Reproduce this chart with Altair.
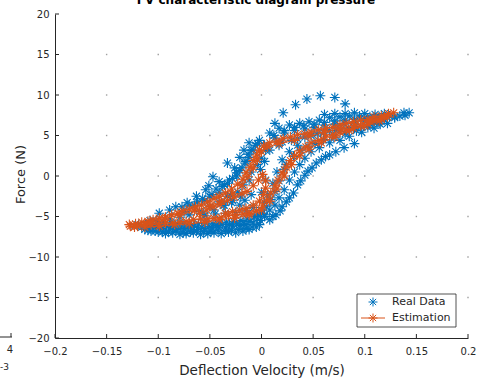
import altair as alt
import pandas as pd

# ---------------- data (velocity m/s, force N) ----------------
# Real data: bottom band
real_bottom_v = [-0.113, -0.107, -0.100, -0.093, -0.086, -0.079, -0.073, -0.066, -0.059, -0.052,
                 -0.046, -0.039, -0.032, -0.025, -0.018, -0.012, -0.005,
                 -0.123, -0.116, -0.109, -0.102, -0.096, -0.089, -0.082, -0.075, -0.069, -0.062,
                 -0.055, -0.048, -0.042, -0.035, -0.028, -0.021, -0.015, -0.008, -0.001,
                 -0.108, -0.102, -0.095, -0.088, -0.081, -0.075, -0.068, -0.061, -0.054, -0.047,
                 -0.041, -0.034, -0.027, -0.020, -0.014, -0.007, 0.000,
                 -0.055, -0.045, -0.035, -0.025, -0.015, -0.008,
                 -0.110, -0.103, -0.096, -0.090, -0.083, -0.076, -0.069, -0.063, -0.056, -0.049,
                 -0.042, -0.035, -0.029, -0.022, -0.015, -0.009, -0.002,
                 -0.119, -0.112, -0.105, -0.098, -0.092, -0.085, -0.078, -0.071, -0.065, -0.058,
                 -0.051, -0.044, -0.038, -0.031, -0.024, -0.017, -0.011, -0.004, 0.003]
real_bottom_f = [-6.6, -6.8, -6.9, -7.1, -7.0, -7.2, -7.1, -7.0, -7.2, -7.1,
                 -7.0, -7.1, -6.9, -7.0, -6.8, -6.6, -6.3,
                 -6.2, -6.3, -6.4, -6.3, -6.5, -6.4, -6.6, -6.5, -6.4, -6.6,
                 -6.5, -6.4, -6.3, -6.4, -6.2, -6.1, -6.0, -5.8, -5.5,
                 -5.5, -5.6, -5.7, -5.8, -5.9, -5.9, -6.0, -5.9, -5.8, -5.9,
                 -5.8, -5.7, -5.6, -5.5, -5.3, -5.0, -4.6,
                 -4.9, -4.7, -4.6, -4.5, -4.3, -3.9,
                 -6.7, -6.8, -6.9, -6.9, -6.8, -7.0, -6.9, -6.8, -6.9, -6.8,
                 -6.7, -6.8, -6.7, -6.6, -6.5, -6.3, -6.0,
                 -6.0, -6.0, -6.1, -6.1, -6.2, -6.2, -6.3, -6.2, -6.2, -6.3,
                 -6.2, -6.1, -6.0, -6.0, -5.9, -5.8, -5.6, -5.3, -5.0]

# Real data: rising branch on the left and its scatter
real_left_v = [-0.075, -0.065, -0.055, -0.050, -0.041, -0.036, -0.031, -0.024, -0.021, -0.016,
               -0.012, -0.010, -0.006, -0.002,
               -0.060, -0.050, -0.041, -0.033, -0.023, -0.018, -0.012, -0.010, -0.004, 0.000, 0.004,
               -0.099, -0.083, -0.072, -0.063, -0.051, -0.047, -0.041, -0.033, -0.026, -0.017,
               -0.012, -0.021, -0.054, -0.077, -0.089,
               -0.036, -0.029, -0.070, -0.079, -0.089,
               -0.070, -0.062, -0.057, -0.048, -0.044, -0.038, -0.033, -0.028, -0.024, -0.019,
               -0.015, -0.013, -0.008, -0.004,
               -0.056, -0.046, -0.037, -0.028, -0.020, -0.030, -0.001, 0.003]
real_left_f = [-4.4, -3.6, -3.0, -2.5, -2.0, -1.1, -0.5, 0.0, 0.7, 1.6,
               2.3, 3.2, 3.8, 4.4,
               -4.4, -3.8, -3.2, -2.5, -2.0, -1.1, -0.5, 0.5, 1.4, 2.2, 3.2,
               -4.6, -3.8, -3.3, -2.5, -1.2, -0.1, -0.7, 1.6, 1.0, 3.2,
               4.1, 2.3, -1.7, -3.8, -4.2,
               -3.6, -3.3, -4.8, -5.1, -5.3,
               -3.6, -3.2, -2.8, -2.3, -1.6, -1.3, -0.9, -0.3, 0.4, 1.0,
               1.8, 2.7, 3.2, 4.0,
               -4.6, -4.2, -3.6, -3.0, -2.6, -2.4, 0.8, 1.8]

# Real data: rising branch on the right
real_right_v = [-0.004, 0.003, 0.006, 0.011, 0.015, 0.020, 0.027, 0.035,
                0.003, 0.008, 0.013, 0.017, 0.022, 0.027, 0.032, 0.037, 0.042, 0.048,
                0.056, 0.066, 0.076, 0.085, 0.097, 0.109, 0.122,
                0.008, 0.014, 0.020, 0.027, 0.035, 0.042, 0.049, 0.058, 0.066, 0.080,
                -0.016, -0.010, -0.021, 0.000, 0.004,
                0.000, 0.005, 0.009, 0.013, 0.017, 0.022, 0.024, 0.031, 0.038, 0.045,
                0.052, 0.060, 0.070, 0.081, 0.092, 0.103, 0.115,
                0.011, 0.018, 0.024, 0.031, 0.038, 0.045, 0.053, 0.062, 0.072, 0.090]
real_right_f = [-4.8, -3.3, -2.3, -0.9, 0.5, 2.0, 3.0, 3.8,
                -4.8, -4.2, -3.6, -2.7, -1.7, -0.5, 0.5, 1.4, 2.2, 3.0,
                3.5, 4.1, 4.4, 4.9, 5.4, 5.9, 6.5,
                -5.4, -4.8, -3.8, -2.7, -1.1, 0.1, 1.0, 2.0, 2.6, 3.5,
                -3.0, -2.3, -3.6, -2.0, -0.5,
                -4.2, -3.8, -2.9, -1.9, -0.6, 0.8, 1.4, 2.4, 3.2, 3.7,
                4.0, 4.5, 4.8, 5.2, 5.6, 6.0, 6.4,
                -5.0, -4.3, -3.2, -2.1, -0.6, 0.6, 1.6, 2.4, 3.0, 4.0]

# Real data: upper band and outliers
real_top_v = [0.008, 0.017, 0.027, 0.037, 0.046, 0.056, 0.066, 0.076, 0.085, 0.095, 0.105, 0.114, 0.124, 0.134,
              0.003, 0.013, 0.022, 0.032, 0.042, 0.051, 0.061, 0.071, 0.080, 0.090, 0.100, 0.109, 0.119, 0.129,
              0.008, 0.017, 0.029, 0.042, 0.054, 0.066, 0.077, 0.090, 0.103, 0.114,
              0.138, 0.143, 0.013, 0.021, 0.033, 0.044, 0.057, 0.071, 0.081,
              0.012, 0.022, 0.032, 0.041, 0.051, 0.061, 0.071, 0.081, 0.090, 0.100, 0.110, 0.119, 0.129, 0.139,
              0.005, 0.020, 0.035, 0.048, 0.060, 0.072, 0.084, 0.096, 0.108,
              0.061, 0.071, 0.081, 0.090, 0.100, 0.110, 0.119]
real_top_f = [5.3, 5.9, 6.3, 6.5, 6.7, 6.9, 7.2, 7.3, 7.4, 7.4, 7.3, 7.3, 7.4, 7.4,
              3.8, 4.7, 5.3, 5.6, 5.8, 6.0, 6.3, 6.4, 6.5, 6.7, 6.8, 6.9, 7.0, 7.2,
              3.2, 3.8, 4.4, 4.8, 5.2, 5.6, 5.8, 6.0, 6.3, 6.5,
              7.8, 7.8, 6.5, 7.8, 8.8, 9.5, 9.9, 9.7, 8.9,
              5.0, 5.6, 6.0, 6.2, 6.4, 6.6, 6.8, 6.9, 7.0, 7.1, 7.1, 7.2, 7.3, 7.5,
              3.6, 4.2, 4.6, 5.0, 5.4, 5.6, 5.9, 6.1, 6.4,
              7.6, 7.7, 7.7, 7.8, 7.7, 7.6, 7.7]

# Estimation: first outer cycle (up branch then return branch)
est_outer_v = [-0.128, -0.122, -0.116, -0.110, -0.105, -0.099, -0.093, -0.087, -0.081, -0.076,
               -0.070, -0.064, -0.058, -0.052, -0.046, -0.041, -0.035, -0.029, -0.023, -0.018,
               -0.015, -0.011, -0.008, -0.005, -0.002, 0.002, 0.008, 0.015, 0.021, 0.028,
               0.035, 0.042, 0.048, 0.055, 0.062, 0.069, 0.076, 0.082, 0.089, 0.096,
               0.103, 0.109, 0.116, 0.123, 0.128,
               0.122, 0.116, 0.109, 0.103, 0.096, 0.089, 0.082, 0.076, 0.069, 0.062,
               0.055, 0.048, 0.043, 0.037, 0.032, 0.028, 0.024, 0.020, 0.016, 0.013,
               0.009, 0.005, 0.001, -0.005, -0.012, -0.018, -0.025, -0.032, -0.039, -0.046,
               -0.052, -0.059, -0.066, -0.073, -0.079, -0.086, -0.093, -0.100, -0.107, -0.113,
               -0.120, -0.127]
est_outer_f = [-6.0, -5.9, -5.7, -5.6, -5.4, -5.2, -5.1, -4.8, -4.6, -4.3,
               -4.1, -3.8, -3.6, -3.2, -2.8, -2.5, -2.1, -1.6, -1.0, -0.4,
               0.4, 1.1, 1.9, 2.6, 3.2, 3.7, 4.1, 4.3, 4.6, 4.8,
               5.1, 5.2, 5.4, 5.7, 5.9, 6.0, 6.3, 6.5, 6.7, 6.9,
               7.0, 7.3, 7.4, 7.7, 7.8,
               7.3, 7.0, 6.8, 6.4, 6.2, 5.9, 5.7, 5.4, 5.1, 4.8,
               4.4, 4.1, 3.6, 3.1, 2.5, 1.9, 1.1, 0.4, -0.5, -1.2,
               -2.1, -3.0, -3.7, -4.3, -4.6, -4.7, -4.8, -4.9, -5.1, -5.2,
               -5.3, -5.3, -5.4, -5.6, -5.7, -5.8, -5.8, -5.9, -6.0, -6.0,
               -6.2, -6.2]

# Estimation: second outer cycle
est_outer2_v = [-0.123, -0.108, -0.094, -0.079, -0.065, -0.050, -0.039, -0.028, -0.019, -0.013,
                -0.008, -0.004, 0.000, 0.006, 0.017, 0.032, 0.046, 0.061, 0.076, 0.090,
                0.105, 0.119,
                0.114, 0.100, 0.085, 0.071, 0.058, 0.046, 0.037, 0.029, 0.022, 0.015,
                0.008, 0.000, -0.012, -0.026, -0.041, -0.055, -0.070, -0.084, -0.099, -0.113]
est_outer2_f = [-6.3, -5.8, -5.3, -4.8, -4.3, -3.7, -3.1, -2.2, -1.2, -0.1,
                1.0, 2.0, 3.0, 3.6, 4.0, 4.4, 4.9, 5.4, 5.9, 6.3,
                6.8, 7.3,
                6.8, 6.2, 5.6, 4.8, 4.1, 3.3, 2.5, 1.4, 0.0, -1.6,
                -3.1, -4.2, -4.8, -5.2, -5.4, -5.7, -5.9, -6.0, -6.2, -6.3]

# Estimation: small inner loop
est_inner_v = [-0.060, -0.053, -0.046, -0.040, -0.033, -0.026, -0.019, -0.014, -0.008, -0.003,
               0.001, 0.004, 0.004, 0.002, -0.002, -0.008, -0.015, -0.021, -0.028, -0.035]
est_inner_f = [-4.6, -4.2, -3.8, -3.5, -3.0, -2.6, -2.2, -1.9, -1.2, -0.5,
               0.2, -0.6, -1.5, -2.3, -3.1, -3.6, -4.0, -4.2, -4.4, -4.6]

x_ticks = [-0.2, -0.15, -0.1, -0.05, 0, 0.05, 0.1, 0.15, 0.2]
y_ticks = [-20, -15, -10, -5, 0, 5, 10, 15, 20]

# ---------------- tables ----------------
real = pd.DataFrame({
    "v": real_bottom_v + real_left_v + real_right_v + real_top_v,
    "f": real_bottom_f + real_left_f + real_right_f + real_top_f,
})
est = pd.DataFrame({
    "v": est_outer_v + est_outer2_v + est_inner_v,
    "f": est_outer_f + est_outer2_f + est_inner_f,
    "loop": ["outer"] * len(est_outer_v) + ["outer2"] * len(est_outer2_v) + ["inner"] * len(est_inner_v),
})
est["i"] = range(len(est))

grid = pd.DataFrame([(gx, gy) for gx in x_ticks[1:] for gy in y_ticks[1:-1]], columns=["v", "f"])
xt = pd.DataFrame({"v": x_ticks})
yt = pd.DataFrame({"f": y_ticks})
one = pd.DataFrame({"k": [0]})

STAR = "M-1,0L1,0M0,-1L0,1M-0.7,-0.7L0.7,0.7M-0.7,0.7L0.7,-0.7"
BLUE = "#0072BD"
ORANGE = "#D95319"
INK = "#262626"
FONT = "DejaVu Sans"
MSIZE = 100
MINUS = "\u2212"

xs = alt.Scale(domain=[-0.2, 0.2], nice=False, zero=False)
ys = alt.Scale(domain=[-20, 20], nice=False, zero=False)

lab = "replace('' + datum.value, '-', '" + MINUS + "')"
x_axis = alt.Axis(values=x_ticks, labelExpr=lab, title="Deflection Velocity (m/s)",
                  grid=False, ticks=False, domainColor=INK, domainWidth=1, labelColor=INK,
                  labelFont=FONT, labelFontSize=10, labelPadding=8, labelFlush=False,
                  titleFont=FONT, titleFontSize=13.5, titleFontWeight="normal", titleColor=INK,
                  titleBaseline="alphabetic", titleY=36)
y_axis = alt.Axis(values=y_ticks, labelExpr=lab, title="Force (N)",
                  grid=False, ticks=False, domainColor=INK, domainWidth=1, labelColor=INK,
                  labelFont=FONT, labelFontSize=10, labelPadding=6, labelFlush=False,
                  titleFont=FONT, titleFontSize=13, titleFontWeight="normal", titleColor=INK,
                  titleX=-28, titleY=160)

X = alt.X("v:Q", scale=xs, axis=x_axis)
Y = alt.Y("f:Q", scale=ys, axis=y_axis)

grid_layer = alt.Chart(grid).mark_square(size=2, color="#a0a0a0", opacity=1).encode(x=X, y=Y)

xtick_layer = alt.Chart(xt).mark_rule(color=INK, strokeWidth=1).encode(
    x=X, y=alt.value(324), y2=alt.value(320))
ytick_layer = alt.Chart(yt).mark_rule(color=INK, strokeWidth=1).encode(
    y=Y, x=alt.value(0), x2=alt.value(4))

real_layer = alt.Chart(real).mark_point(shape=STAR, filled=False, size=MSIZE, strokeWidth=1.1,
                                        color=BLUE, opacity=1).encode(x=X, y=Y)

est_line = alt.Chart(est).mark_line(color=ORANGE, strokeWidth=1).encode(
    x=X, y=Y, detail="loop:N", order="i:Q")
est_pts = alt.Chart(est).mark_point(shape=STAR, filled=False, size=MSIZE, strokeWidth=1.1,
                                    color=ORANGE, opacity=1).encode(x=X, y=Y)

# legend (drawn by hand, in pixels)
leg_box = alt.Chart(one).mark_rect(fill="white", stroke=INK, strokeWidth=0.8).encode(
    x=alt.value(302), x2=alt.value(401), y=alt.value(280), y2=alt.value(313))
leg_s1 = alt.Chart(one).mark_point(shape=STAR, filled=False, size=80, strokeWidth=1,
                                   color=BLUE, opacity=1).encode(x=alt.value(318), y=alt.value(288))
leg_line = alt.Chart(one).mark_rule(color=ORANGE, strokeWidth=1).encode(
    x=alt.value(306), x2=alt.value(330), y=alt.value(304))
leg_s2 = alt.Chart(one).mark_point(shape=STAR, filled=False, size=80, strokeWidth=1,
                                   color=ORANGE, opacity=1).encode(x=alt.value(318), y=alt.value(304))
leg_t1 = alt.Chart(one).mark_text(text="Real Data", align="left", baseline="middle", font=FONT,
                                  fontSize=11, color=INK).encode(x=alt.value(337), y=alt.value(288))
leg_t2 = alt.Chart(one).mark_text(text="Estimation", align="left", baseline="middle", font=FONT,
                                  fontSize=11, color=INK).encode(x=alt.value(337), y=alt.value(304))

title = alt.Chart(one).mark_text(text="FV characteristic diagram pressure", align="center",
                                 baseline="alphabetic", font=FONT, fontSize=12, fontWeight="bold",
                                 color="#000000").encode(x=alt.value(201), y=alt.value(-10))

# remnants of the neighbouring panel on the left edge
nb_line = alt.Chart(one).mark_rule(color=INK, strokeWidth=1).encode(
    x=alt.value(-55), x2=alt.value(-43), y=alt.value(323))
nb_tick = alt.Chart(one).mark_rule(color=INK, strokeWidth=1).encode(
    x=alt.value(-44), y=alt.value(319), y2=alt.value(323))
nb_4 = alt.Chart(one).mark_text(text="4", align="center", baseline="middle", font=FONT,
                                fontSize=10, color=INK).encode(x=alt.value(-45), y=alt.value(336))
nb_e = alt.Chart(one).mark_text(text="-3", align="right", baseline="middle", font=FONT,
                                fontSize=9, color=INK).encode(x=alt.value(-46), y=alt.value(353))

chart = alt.layer(
    grid_layer, xtick_layer, ytick_layer, real_layer, est_line, est_pts,
    leg_box, leg_line, leg_s1, leg_s2, leg_t1, leg_t2, title, nb_line, nb_tick, nb_4, nb_e,
).properties(
    width=413, height=324, autosize="none",
    padding={"left": 55, "top": 14, "right": 12, "bottom": 40},
    background="white",
).configure_view(stroke=None)

chart.save("out.html", embed_options={"renderer": "svg", "actions": False})
